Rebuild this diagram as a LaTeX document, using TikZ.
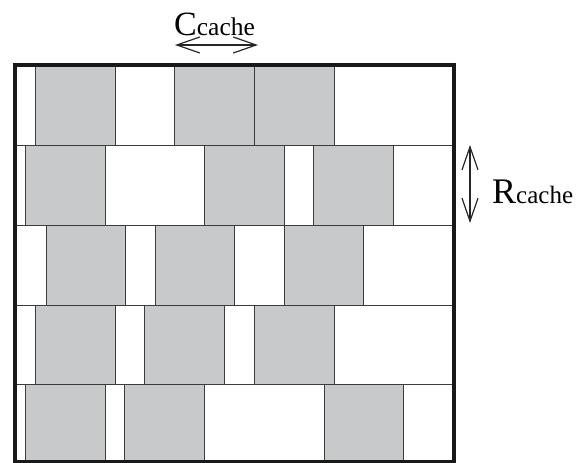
\documentclass[tikz,border=0pt]{standalone}
\usepackage{fontspec}
\setmainfont{Liberation Serif}
\newfontfamily\tmsfont{Liberation Serif}
\usetikzlibrary{arrows.meta}
\definecolor{cellgray}{HTML}{C8C9CB}
\definecolor{gridline}{HTML}{3C3C3C}
\tikzset{
  gline/.style={draw=gridline, line width=1pt},
  frame/.style={draw=black!90, line width=3.6pt},
  dimarrow/.style={draw=black!85, line width=1.2pt, {Straight Barb[length=23pt,width=16pt]}-{Straight Barb[length=23pt,width=16pt]}},
  lbl/.style={inner sep=0pt, anchor=base west, font=\tmsfont}
}
\begin{document}
\begin{tikzpicture}[x=1pt,y=-1pt]
\useasboundingbox (0,0) rectangle (576,463);
\def\xl{15}\def\xr{454}
\foreach \ya/\yb/\cells/\lines in {
  65/145/{35/115,174/254,254/334}/{35,115,174,254,334},
  145/225/{25/105,204/284,313/393}/{25,105,204,284,313,393},
  225/305/{46/125,155/234,284/363}/{46,125,155,234,284,363},
  305/384/{35/115,144/224,254/334}/{35,115,144,224,254,334},
  384/462/{25/105,124/204,324/403}/{25,105,124,204,324,403}}{
  \foreach \a/\b in \cells { \fill[cellgray] (\a,\ya) rectangle (\b,\yb); }
  \foreach \x in \lines { \draw[gline] (\x,\ya) -- (\x,\yb); }
  \draw[gline] (\xl,\ya) -- (\xr,\ya);
}
\draw[frame] (\xl,65) rectangle (\xr,461.5);
\coordinate (cl) at (175,45);
\coordinate (cr) at (258,45);
\coordinate (rt) at (470,145);
\coordinate (rb) at (470,223);
\draw[dimarrow] (cl) -- (cr);
\draw[dimarrow] (rt) -- (rb);
\node[lbl] (clabel) at (174,35) {{\fontsize{34}{34}\selectfont C}{\fontsize{25.5}{25.5}\selectfont cache}};
\node[lbl] (rlabel) at (492,203) {{\fontsize{36}{36}\selectfont R}{\fontsize{25}{25}\selectfont cache}};
\end{tikzpicture}
\end{document}
